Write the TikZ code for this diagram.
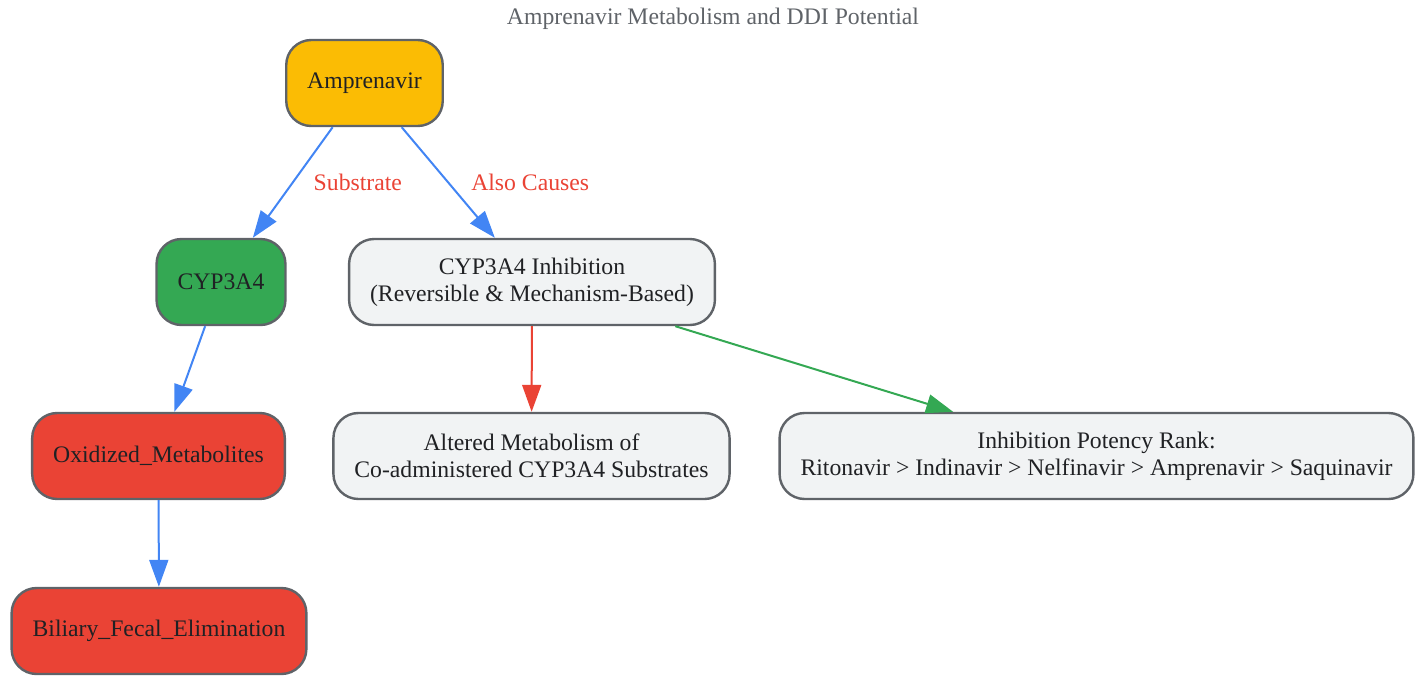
\documentclass[tikz,border=0pt]{standalone}
\usepackage{fontspec}
\setmainfont{Liberation Serif}
\usetikzlibrary{arrows.meta}
\definecolor{gyellow}{HTML}{FBBC04}
\definecolor{ggreen}{HTML}{34A853}
\definecolor{gred}{HTML}{EA4335}
\definecolor{gblue}{HTML}{4285F4}
\definecolor{glight}{HTML}{F1F3F4}
\definecolor{gborder}{HTML}{5F6368}
\definecolor{gtext}{HTML}{202124}
\begin{document}
\begin{tikzpicture}[x=0.5pt,y=-0.5pt,>={Triangle[length=13.5pt,width=9.5pt]},
        font=\fontsize{11.85}{13.5}\selectfont,
        box/.style={draw=gborder,line width=1.2pt,rounded corners=12.5pt,minimum height=43pt,inner xsep=10.5pt,text=gtext,align=center},
        lbl/.style={text=gred,inner sep=0pt,midway,anchor=west}]
        \useasboundingbox (0,0) rectangle (1425,675);
        \node[text=gborder] (title) at (713,19) {Amprenavir Metabolism and DDI Potential};
        % nodes
        \node[box,fill=gyellow] (amp) at (364.5,83) {Amprenavir};
        \node[box,fill=ggreen] (cyp) at (221,282) {CYP3A4};
        \node[box,fill=glight] (inhib) at (532,282) {CYP3A4 Inhibition\\(Reversible \& Mechanism-Based)};
        \node[box,fill=gred] (oxid) at (158.5,456) {Oxidized\_Metabolites};
        \node[box,fill=glight] (alter) at (531.5,456) {Altered Metabolism of\\Co-administered CYP3A4 Substrates};
        \node[box,fill=glight] (rank) at (1096.5,456) {Inhibition Potency Rank:\\Ritonavir > Indinavir > Nelfinavir > Amprenavir > Saquinavir};
        \node[box,fill=gred] (elim) at (159,631) {Biliary\_Fecal\_Elimination};
        % edges
        \draw[->,gblue,line width=1pt](amp)--(cyp)node[lbl,xshift=10pt]{Substrate};
        \draw[->,gblue,line width=1pt](amp)--(inhib)node[lbl,xshift=11pt]{Also Causes};
        \draw[->,gblue,line width=1pt](cyp)--(oxid);
        \draw[->,gblue,line width=1pt](oxid)--(elim);
        \draw[->,gred,line width=1pt](inhib)--(alter);
        \draw[->,ggreen,line width=1pt](inhib)--(rank);
\end{tikzpicture}
\end{document}
